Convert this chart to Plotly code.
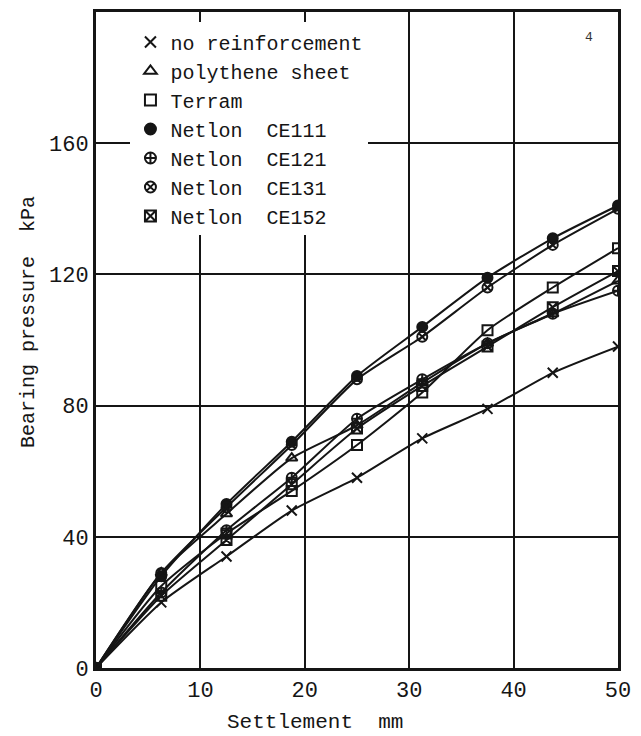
import plotly.graph_objects as go

settlement = [0, 6.25, 12.5, 18.75, 25, 31.25, 37.5, 43.75, 50]

no_reinforcement = [0, 20, 34, 48, 58, 70, 79, 90, 98]
polythene_sheet = [0, 29, 47, 64, 74, 87, 99, 108, 118]
terram = [0, 25, 41, 54, 68, 84, 103, 116, 128]
netlon_ce111 = [0, 28, 50, 69, 89, 104, 119, 131, 141]
netlon_ce121 = [0, 23, 42, 58, 76, 88, 99, 108, 115]
netlon_ce131 = [0, 29, 49, 68, 88, 101, 116, 129, 140]
netlon_ce152 = [0, 22, 39, 56, 73, 86, 98, 110, 121]

series_names = ["no reinforcement", "polythene sheet", "Terram",
                "Netlon  CE111", "Netlon  CE121", "Netlon  CE131", "Netlon  CE152"]
series_values = [no_reinforcement, polythene_sheet, terram,
                 netlon_ce111, netlon_ce121, netlon_ce131, netlon_ce152]
symbols = ["x-thin-open", "triangle-up-open", "square-open", "circle",
           "circle-cross-open", "circle-x-open", "square-x-open"]

x_ticks = [0, 10, 20, 30, 40, 50]
x_tick_labels = ["0", "10", "20", "30", "40", "50"]
y_ticks = [0, 40, 80, 120, 160]
y_tick_labels = ["0", "40", "80", "120", "160"]

FONT = "Liberation Mono, DejaVu Sans Mono, monospace"
INK = "#151515"

fig = go.Figure()
for name, vals, sym in zip(series_names, series_values, symbols):
    fig.add_trace(go.Scatter(
        x=settlement, y=vals, name=name, mode="lines+markers",
        line=dict(color=INK, width=2, shape="spline", smoothing=0.6),
        marker=dict(symbol=sym, size=10, color=INK,
                    line=dict(color=INK, width=2)),
        showlegend=False,
    ))
# legend entries: symbols only, as in the original key
for name, sym in zip(series_names, symbols):
    fig.add_trace(go.Scatter(
        x=[None], y=[None], name=name, mode="markers",
        marker=dict(symbol=sym, size=11, color=INK,
                    line=dict(color=INK, width=2)),
        showlegend=True,
    ))

# page body has an 8px default margin, so the figure is 8px smaller
fig.update_layout(
    width=633, height=728,
    margin=dict(l=88, r=23, t=4, b=68),
    paper_bgcolor="white", plot_bgcolor="white",
    font=dict(family=FONT, size=20, color=INK),
    legend=dict(x=0.066, y=0.984, xanchor="left", yanchor="top",
                bgcolor="white", borderwidth=0,
                font=dict(family=FONT, size=20, color=INK),
                tracegroupgap=0, itemwidth=30),
    showlegend=True,
)
fig.update_xaxes(
    range=[0, 50], tickvals=x_ticks, ticktext=x_tick_labels,
    showgrid=True, gridcolor=INK, gridwidth=1.5,
    showline=True, linecolor=INK, linewidth=3, mirror=True,
    zeroline=False, ticks="", tickfont=dict(size=22), automargin=False,
)
fig.update_yaxes(
    range=[0, 200], tickvals=y_ticks, ticktext=y_tick_labels,
    showgrid=True, gridcolor=INK, gridwidth=1.5,
    showline=True, linecolor=INK, linewidth=3, mirror=True,
    zeroline=False, ticks="", tickfont=dict(size=22), automargin=False,
)
fig.add_annotation(x=(315 - 96) / 522, xref="paper", y=0, yref="paper",
                   yanchor="top", yshift=-41, text="Settlement  mm",
                   showarrow=False, font=dict(size=21, color=INK))
fig.add_annotation(x=0, xref="paper", xanchor="center", xshift=-68,
                   y=(668 - 322) / 656, yref="paper", text="Bearing pressure  kPa",
                   textangle=-90, showarrow=False, font=dict(size=20, color=INK))
fig.add_annotation(x=(595 - 96) / 522, y=(668 - 28) / 656, xref="paper", yref="paper",
                   text="4", showarrow=False, font=dict(size=13, color="#333"))

fig.write_html("out.html")
